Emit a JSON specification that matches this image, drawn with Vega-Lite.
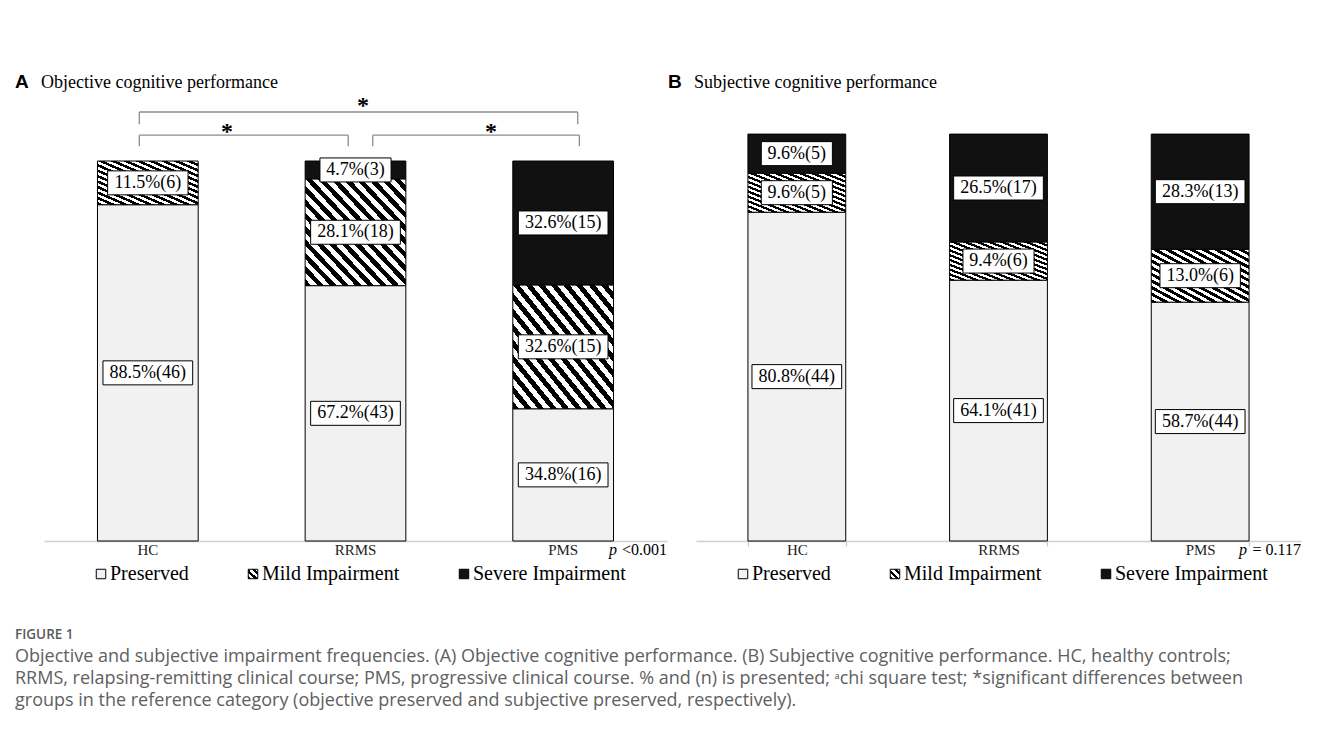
{
  "$schema": "https://vega.github.io/schema/vega-lite/v6.json",
  "background": "white",
  "padding": {"left": 15, "top": 73, "right": 10, "bottom": 10},
  "bounds": "flush",
  "spacing": 29,
  "params": [
    {"name": "hatch", "expr": "{gradient:'linear',x1:0,y1:1,x2:1,y2:0,stops:[{offset:0,color:'#000'},{offset:0.03125,color:'#000'},{offset:0.03125,color:'#fff'},{offset:0.0625,color:'#fff'},{offset:0.0625,color:'#000'},{offset:0.09375,color:'#000'},{offset:0.09375,color:'#fff'},{offset:0.125,color:'#fff'},{offset:0.125,color:'#000'},{offset:0.15625,color:'#000'},{offset:0.15625,color:'#fff'},{offset:0.1875,color:'#fff'},{offset:0.1875,color:'#000'},{offset:0.21875,color:'#000'},{offset:0.21875,color:'#fff'},{offset:0.25,color:'#fff'},{offset:0.25,color:'#000'},{offset:0.28125,color:'#000'},{offset:0.28125,color:'#fff'},{offset:0.3125,color:'#fff'},{offset:0.3125,color:'#000'},{offset:0.34375,color:'#000'},{offset:0.34375,color:'#fff'},{offset:0.375,color:'#fff'},{offset:0.375,color:'#000'},{offset:0.40625,color:'#000'},{offset:0.40625,color:'#fff'},{offset:0.4375,color:'#fff'},{offset:0.4375,color:'#000'},{offset:0.46875,color:'#000'},{offset:0.46875,color:'#fff'},{offset:0.5,color:'#fff'},{offset:0.5,color:'#000'},{offset:0.53125,color:'#000'},{offset:0.53125,color:'#fff'},{offset:0.5625,color:'#fff'},{offset:0.5625,color:'#000'},{offset:0.59375,color:'#000'},{offset:0.59375,color:'#fff'},{offset:0.625,color:'#fff'},{offset:0.625,color:'#000'},{offset:0.65625,color:'#000'},{offset:0.65625,color:'#fff'},{offset:0.6875,color:'#fff'},{offset:0.6875,color:'#000'},{offset:0.71875,color:'#000'},{offset:0.71875,color:'#fff'},{offset:0.75,color:'#fff'},{offset:0.75,color:'#000'},{offset:0.78125,color:'#000'},{offset:0.78125,color:'#fff'},{offset:0.8125,color:'#fff'},{offset:0.8125,color:'#000'},{offset:0.84375,color:'#000'},{offset:0.84375,color:'#fff'},{offset:0.875,color:'#fff'},{offset:0.875,color:'#000'},{offset:0.90625,color:'#000'},{offset:0.90625,color:'#fff'},{offset:0.9375,color:'#fff'},{offset:0.9375,color:'#000'},{offset:0.96875,color:'#000'},{offset:0.96875,color:'#fff'},{offset:1,color:'#fff'}]}"}
  ],
  "datasets": {
    "objective": [
      {"group": "HC", "category": "Preserved", "pct": 88.5, "n": 46},
      {"group": "HC", "category": "Mild Impairment", "pct": 11.5, "n": 6},
      {"group": "RRMS", "category": "Preserved", "pct": 67.2, "n": 43},
      {"group": "RRMS", "category": "Mild Impairment", "pct": 28.1, "n": 18},
      {"group": "RRMS", "category": "Severe Impairment", "pct": 4.7, "n": 3},
      {"group": "PMS", "category": "Preserved", "pct": 34.8, "n": 16},
      {"group": "PMS", "category": "Mild Impairment", "pct": 32.6, "n": 15},
      {"group": "PMS", "category": "Severe Impairment", "pct": 32.6, "n": 15}
    ],
    "subjective": [
      {"group": "HC", "category": "Preserved", "pct": 80.8, "n": 44},
      {"group": "HC", "category": "Mild Impairment", "pct": 9.6, "n": 5},
      {"group": "HC", "category": "Severe Impairment", "pct": 9.6, "n": 5},
      {"group": "RRMS", "category": "Preserved", "pct": 64.1, "n": 41},
      {"group": "RRMS", "category": "Mild Impairment", "pct": 9.4, "n": 6},
      {"group": "RRMS", "category": "Severe Impairment", "pct": 26.5, "n": 17},
      {"group": "PMS", "category": "Preserved", "pct": 58.7, "n": 44},
      {"group": "PMS", "category": "Mild Impairment", "pct": 13.0, "n": 6},
      {"group": "PMS", "category": "Severe Impairment", "pct": 28.3, "n": 13}
    ],
    "bracketsA": [
      {"xa": 0.459, "xb": 2.570, "yl": 112.9, "yt": 109.7},
      {"xa": 0.459, "xb": 1.465, "yl": 106.8, "yt": 103.9},
      {"xa": 1.583, "xb": 2.578, "yl": 106.8, "yt": 103.9}
    ],
    "starsA": [
      {"x": 1.536, "y": 112.6},
      {"x": 0.881, "y": 105.8},
      {"x": 2.152, "y": 105.8}
    ]
  },
  "title": {
    "text": "FIGURE 1",
    "subtitle": [
      "Objective and subjective impairment frequencies. (A) Objective cognitive performance. (B) Subjective cognitive performance. HC, healthy controls;",
      "RRMS, relapsing-remitting clinical course; PMS, progressive clinical course. % and (n) is presented; ᵃchi square test; *significant differences between",
      "groups in the reference category (objective preserved and subjective preserved, respectively)."
    ],
    "orient": "bottom",
    "anchor": "start",
    "dx": 0,
    "offset": 44,
    "font": "Open Sans",
    "fontSize": 13.5,
    "fontWeight": 600,
    "color": "#5a5a5a",
    "subtitleFont": "Open Sans",
    "subtitleFontSize": 18,
    "subtitleColor": "#606060",
    "subtitleLineHeight": 22,
    "subtitlePadding": 6
  },
  "hconcat": [
    {
      "width": 623,
      "height": 448,
      "title": {
        "text": "\u2800\u2800Objective cognitive performance",
        "subtitle": "A",
        "anchor": "start",
        "dx": -29,
        "offset": 0,
        "font": "Liberation Serif",
        "fontSize": 18,
        "fontWeight": "normal",
        "color": "black",
        "subtitleFont": "Liberation Sans",
        "subtitleFontSize": 19,
        "subtitleFontWeight": "bold",
        "subtitleColor": "black",
        "subtitlePadding": -19
      },
      "layer": [
        {
          "data": {"name": "objective"},
          "transform": [
            {"calculate": "indexof(['Preserved','Mild Impairment','Severe Impairment'], datum.category)", "as": "ord"},
            {"stack": "pct", "groupby": ["group"], "sort": [{"field": "ord", "order": "ascending"}], "as": ["y0", "y1"]},
            {"calculate": "(datum.y0+datum.y1)/2", "as": "ymid"},
            {"calculate": "format(datum.pct,'.1f')+'%('+datum.n+')'", "as": "label"},
            {"calculate": "9.3*length(datum.label)+6", "as": "bw"},
            {"calculate": "datum.bw*datum.bw", "as": "boxsize"},
            {"calculate": "'M-1,'+(-24/datum.bw)+'H1V'+(24/datum.bw)+'H-1Z'", "as": "boxpath"}
          ],
          "encoding": {
            "x": {
              "field": "group", "type": "nominal", "sort": ["HC", "RRMS", "PMS"],
              "scale": {"paddingInner": 0.515, "paddingOuter": 0.2575},
              "axis": {"title": null, "labelAngle": 0, "labelFont": "Liberation Serif", "labelFontSize": 15, "labelColor": "#222222", "ticks": false, "labelPadding": 1, "domainColor": "#d0d0d0", "domainWidth": 1.5}
            }
          },
          "layer": [
            {
              "mark": {"type": "bar", "stroke": "black", "strokeWidth": 1},
              "encoding": {
                "y": {"field": "y0", "type": "quantitative", "scale": {"domain": [0, 117.9], "nice": false}, "axis": null},
                "y2": {"field": "y1"},
                "fill": {
                  "field": "category", "type": "nominal",
                  "scale": {"domain": ["Preserved", "Mild Impairment", "Severe Impairment"], "range": ["#f1f1f1", {"expr": "hatch"}, "#111111"]},
                  "legend": {"title": null, "orient": "none", "legendX": 47, "legendY": 471, "direction": "horizontal"}
                }
              }
            },
            {
              "mark": {"type": "point", "filled": true, "fill": "white", "stroke": "black", "strokeWidth": 1, "opacity": 1, "fillOpacity": 1},
              "encoding": {
                "y": {"field": "ymid", "type": "quantitative", "scale": {"domain": [0, 117.9], "nice": false}, "axis": null},
                "shape": {"field": "boxpath", "type": "nominal", "scale": null},
                "size": {"field": "boxsize", "type": "quantitative", "scale": null}
              }
            },
            {
              "mark": {"type": "text", "font": "Liberation Serif", "fontSize": 18, "color": "black", "baseline": "middle", "align": "center"},
              "encoding": {
                "y": {"field": "ymid", "type": "quantitative", "scale": {"domain": [0, 117.9], "nice": false}, "axis": null},
                "text": {"field": "label"}
              }
            }
          ]
        },
        {
          "data": {"name": "bracketsA"},
          "layer": [
            {
              "mark": {"type": "rule", "color": "#8c8c8c", "strokeWidth": 1.3},
              "encoding": {
                "x": {"field": "xa", "type": "quantitative", "scale": {"domain": [0, 3], "nice": false, "zero": false}, "axis": null},
                "x2": {"field": "xb"},
                "y": {"field": "yl", "type": "quantitative", "scale": {"domain": [0, 117.9], "nice": false}, "axis": null}
              }
            },
            {
              "mark": {"type": "rule", "color": "#8c8c8c", "strokeWidth": 1.3},
              "encoding": {
                "x": {"field": "xa", "type": "quantitative", "scale": {"domain": [0, 3], "nice": false, "zero": false}, "axis": null},
                "y": {"field": "yl", "type": "quantitative", "scale": {"domain": [0, 117.9], "nice": false}, "axis": null},
                "y2": {"field": "yt"}
              }
            },
            {
              "mark": {"type": "rule", "color": "#8c8c8c", "strokeWidth": 1.3},
              "encoding": {
                "x": {"field": "xb", "type": "quantitative", "scale": {"domain": [0, 3], "nice": false, "zero": false}, "axis": null},
                "y": {"field": "yl", "type": "quantitative", "scale": {"domain": [0, 117.9], "nice": false}, "axis": null},
                "y2": {"field": "yt"}
              }
            }
          ]
        },
        {
          "data": {"name": "starsA"},
          "mark": {"type": "text", "font": "Liberation Serif", "fontSize": 24, "fontWeight": "bold", "baseline": "alphabetic", "align": "center", "color": "black"},
          "encoding": {
            "x": {"field": "x", "type": "quantitative", "scale": {"domain": [0, 3], "nice": false, "zero": false}, "axis": null},
            "y": {"field": "y", "type": "quantitative", "scale": {"domain": [0, 117.9], "nice": false}, "axis": null},
            "text": {"value": "*"}
          }
        },
        {
          "data": {"values": [{"stat": "<0.001"}]},
          "layer": [
            {
              "mark": {"type": "text", "font": "Liberation Serif", "fontSize": 16, "align": "right", "baseline": "middle", "dy": 9, "color": "black"},
              "encoding": {"x": {"value": "width"}, "y": {"value": "height"}, "text": {"field": "stat"}}
            },
            {
              "mark": {"type": "text", "font": "Liberation Serif", "fontSize": 16, "fontStyle": "italic", "align": "right", "baseline": "middle", "dy": 9, "dx": -50, "color": "black"},
              "encoding": {"x": {"value": "width"}, "y": {"value": "height"}, "text": {"value": "p"}}
            }
          ]
        }
      ],
      "resolve": {"scale": {"x": "independent"}}
    },
    {
      "width": 605,
      "height": 448,
      "title": {
        "text": "\u2800\u2800Subjective cognitive performance",
        "subtitle": "B",
        "anchor": "start",
        "dx": -28,
        "offset": 0,
        "font": "Liberation Serif",
        "fontSize": 18,
        "fontWeight": "normal",
        "color": "black",
        "subtitleFont": "Liberation Sans",
        "subtitleFontSize": 19,
        "subtitleFontWeight": "bold",
        "subtitleColor": "black",
        "subtitlePadding": -19
      },
      "layer": [
        {
          "data": {"name": "subjective"},
          "transform": [
            {"calculate": "indexof(['Preserved','Mild Impairment','Severe Impairment'], datum.category)", "as": "ord"},
            {"stack": "pct", "groupby": ["group"], "sort": [{"field": "ord", "order": "ascending"}], "as": ["y0", "y1"]},
            {"calculate": "(datum.y0+datum.y1)/2", "as": "ymid"},
            {"calculate": "format(datum.pct,'.1f')+'%('+datum.n+')'", "as": "label"},
            {"calculate": "9.3*length(datum.label)+6", "as": "bw"},
            {"calculate": "datum.bw*datum.bw", "as": "boxsize"},
            {"calculate": "'M-1,'+(-24/datum.bw)+'H1V'+(24/datum.bw)+'H-1Z'", "as": "boxpath"}
          ],
          "encoding": {
            "x": {
              "field": "group", "type": "nominal", "sort": ["HC", "RRMS", "PMS"],
              "scale": {"paddingInner": 0.515, "paddingOuter": 0.2575},
              "axis": {"title": null, "labelAngle": 0, "labelFont": "Liberation Serif", "labelFontSize": 15, "labelColor": "#222222", "ticks": true, "tickBand": "extent", "tickSize": 5, "tickColor": "#c8c8c8", "tickWidth": 1.2, "labelPadding": -4, "domainColor": "#d0d0d0", "domainWidth": 1.5}
            }
          },
          "layer": [
            {
              "mark": {"type": "bar", "stroke": "black", "strokeWidth": 1},
              "encoding": {
                "y": {"field": "y0", "type": "quantitative", "scale": {"domain": [0, 110.1], "nice": false}, "axis": null},
                "y2": {"field": "y1"},
                "fill": {
                  "field": "category", "type": "nominal",
                  "scale": {"domain": ["Preserved", "Mild Impairment", "Severe Impairment"], "range": ["#f1f1f1", {"expr": "hatch"}, "#111111"]},
                  "legend": {"title": null, "orient": "none", "legendX": 37, "legendY": 471, "direction": "horizontal"}
                }
              }
            },
            {
              "mark": {"type": "point", "filled": true, "fill": "white", "stroke": "black", "strokeWidth": 1, "opacity": 1, "fillOpacity": 1},
              "encoding": {
                "y": {"field": "ymid", "type": "quantitative", "scale": {"domain": [0, 110.1], "nice": false}, "axis": null},
                "shape": {"field": "boxpath", "type": "nominal", "scale": null},
                "size": {"field": "boxsize", "type": "quantitative", "scale": null}
              }
            },
            {
              "mark": {"type": "text", "font": "Liberation Serif", "fontSize": 18, "color": "black", "baseline": "middle", "align": "center"},
              "encoding": {
                "y": {"field": "ymid", "type": "quantitative", "scale": {"domain": [0, 110.1], "nice": false}, "axis": null},
                "text": {"field": "label"}
              }
            }
          ]
        },
        {
          "data": {"values": [{"stat": "= 0.117"}]},
          "layer": [
            {
              "mark": {"type": "text", "font": "Liberation Serif", "fontSize": 16, "align": "right", "baseline": "middle", "dy": 9, "color": "black"},
              "encoding": {"x": {"value": "width"}, "y": {"value": "height"}, "text": {"field": "stat"}}
            },
            {
              "mark": {"type": "text", "font": "Liberation Serif", "fontSize": 16, "fontStyle": "italic", "align": "right", "baseline": "middle", "dy": 9, "dx": -54, "color": "black"},
              "encoding": {"x": {"value": "width"}, "y": {"value": "height"}, "text": {"value": "p"}}
            }
          ]
        }
      ],
      "resolve": {"scale": {"x": "independent"}}
    }
  ],
  "resolve": {"scale": {"fill": "independent"}, "legend": {"fill": "independent"}},
  "config": {
    "view": {"stroke": null},
    "legend": {
      "symbolType": "square",
      "symbolSize": 90,
      "symbolStrokeColor": "black",
      "symbolStrokeWidth": 1,
      "symbolOpacity": 1,
      "labelFont": "Liberation Serif",
      "labelFontSize": 20,
      "labelColor": "black",
      "labelOffset": -1,
      "columnPadding": 54,
      "padding": 0,
      "labelLimit": 400
    }
  }
}
